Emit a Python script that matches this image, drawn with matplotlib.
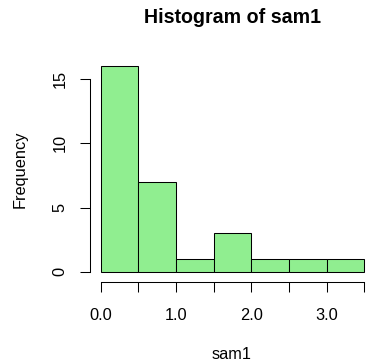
"""R-style histogram of sam1."""
import numpy as np
import matplotlib
matplotlib.use("Agg")
import matplotlib.pyplot as plt

plt.rcParams["font.family"] = ["Liberation Sans", "DejaVu Sans"]

# bin edges and counts
bin_edges = [0.0, 0.5, 1.0, 1.5, 2.0, 2.5, 3.0, 3.5]
counts = [16, 7, 1, 3, 1, 1, 1]
x_ticks = [0.0, 0.5, 1.0, 1.5, 2.0, 2.5, 3.0, 3.5]
x_ticklabels = ["0.0", "", "1.0", "", "2.0", "", "3.0", ""]
y_ticks = [0, 5, 10, 15]

W, H = 367, 364
FS = 11.8
fig = plt.figure(figsize=(W / 100, H / 100), dpi=100)

# plot region in pixels (R-style 4% padding around data range)
left_px, right_px, top_px, bot_px = 90, 375, 58, 280
ax = fig.add_axes([left_px / W, 1 - bot_px / H,
                   (right_px - left_px) / W, (bot_px - top_px) / H])
ax.patch.set_alpha(0)

lefts = np.array(bin_edges[:-1])
widths = np.diff(bin_edges)
ax.bar(lefts, counts, width=widths, align="edge", color="#90EE90",
       edgecolor="black", linewidth=0.75)

ax.set_xlim(-0.14, 3.64)
ax.set_ylim(-0.64, 16.64)

for s in ["top", "right"]:
    ax.spines[s].set_visible(False)
ax.spines["left"].set_bounds(0, 15)
ax.spines["bottom"].set_bounds(0, 3.5)
ax.spines["bottom"].set_position(("outward", 1.5))
for s in ["left", "bottom"]:
    ax.spines[s].set_linewidth(0.75)

ax.set_xticks(x_ticks)
ax.set_xticklabels(x_ticklabels)
ax.set_yticks(y_ticks)
ax.set_yticklabels([str(v) for v in y_ticks], rotation=90, va="center")
ax.tick_params(axis="both", length=7, width=0.75, labelsize=FS)
ax.tick_params(axis="x", pad=11.5)
ax.tick_params(axis="y", pad=9)

fig.text(232 / W, 1 - 23 / H, "Histogram of sam1", ha="center", va="baseline",
         fontsize=FS * 1.2, fontweight="bold")
fig.text(232 / W, 1 - 359 / H, "sam1", ha="center", va="baseline", fontsize=FS)
fig.text(25 / W, 1 - 169 / H, "Frequency", ha="center", va="baseline",
         rotation=90, rotation_mode="anchor", fontsize=FS)

fig.savefig("out.png", dpi=100)
